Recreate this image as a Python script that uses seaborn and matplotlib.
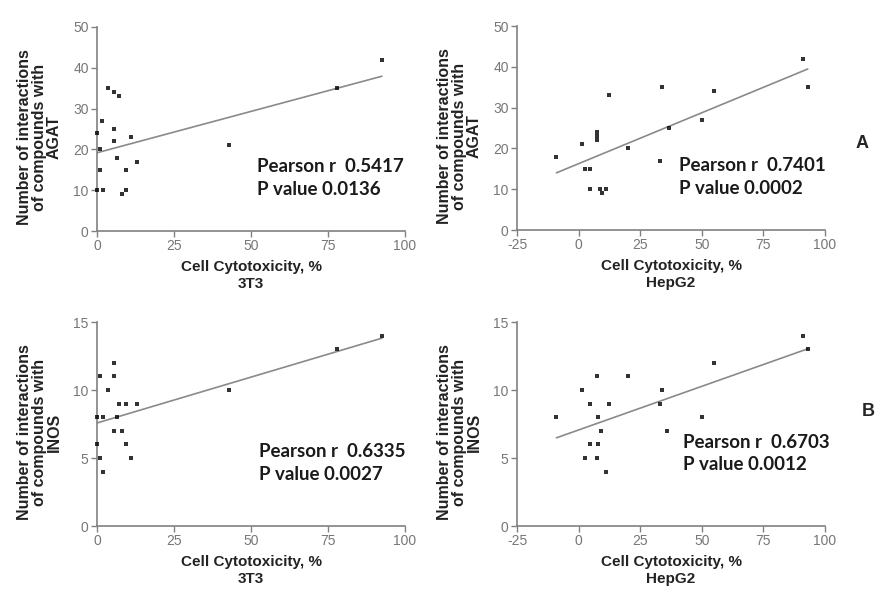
import numpy as np
import pandas as pd
import matplotlib
matplotlib.use("Agg")
import matplotlib.pyplot as plt
import seaborn as sns

# --- data ---
# 3T3 cytotoxicity vs AGAT interactions
t3_agat_x = [0, 1.5, 3.5, 5.5, 7, 5.5, 5.5, 1, 6.5, 11, 13, 9.5, 1, 0, 2, 9.5, 8, 43, 78, 92.5]
t3_agat_y = [24, 27, 35, 34, 33, 25, 22, 20, 18, 23, 17, 15, 15, 10, 10, 10, 9, 21, 35, 42]

# HepG2 cytotoxicity vs AGAT interactions
hep_agat_x = [-9, 1.5, 2.5, 4.5, 4.5, 7.5, 7.5, 7.5, 8.5, 9.5, 11, 12.5, 20, 33, 34, 36.5, 50, 55, 91, 93]
hep_agat_y = [18, 21, 15, 15, 10, 22, 23, 24, 10, 9, 10, 33, 20, 17, 35, 25, 27, 34, 42, 35]

# 3T3 cytotoxicity vs INOS interactions
t3_inos_x = [1, 0, 2, 0, 1, 2, 3.5, 5.5, 5.5, 7, 9.5, 13, 6.5, 5.5, 8, 9.5, 11, 43, 78, 92.5]
t3_inos_y = [11, 8, 8, 6, 5, 4, 10, 12, 11, 9, 9, 9, 8, 7, 7, 6, 5, 10, 13, 14]

# HepG2 cytotoxicity vs INOS interactions
hep_inos_x = [-9, 1.5, 2.5, 4.5, 4.5, 8, 7.5, 8, 9, 7.5, 11, 12.5, 20, 33, 34, 36, 50, 55, 91, 93]
hep_inos_y = [8, 10, 5, 9, 6, 6, 11, 8, 7, 5, 4, 9, 11, 9, 10, 7, 8, 12, 14, 13]

stats_text = ["Pearson r  0.5417\nP value 0.0136",
              "Pearson r  0.7401\nP value 0.0002",
              "Pearson r  0.6335\nP value 0.0027",
              "Pearson r  0.6703\nP value 0.0012"]

sns.set_style("ticks")
plt.rcParams['font.family'] = ['Liberation Sans', 'DejaVu Sans']
plt.rcParams['axes.unicode_minus'] = False

fig = plt.figure(figsize=(8.88, 5.93), dpi=100)

W, H = 888, 593
def axes_px(x0, x1, y0, y1):
    return fig.add_axes([x0 / W, 1 - y1 / H, (x1 - x0) / W, (y1 - y0) / H])

panels = [
    dict(x=t3_agat_x, y=t3_agat_y, box=(97, 405, 27, 231), xlim=(0, 100), ylim=(0, 50),
         yt=range(0, 51, 10), enz="AGAT", cell="3T3", txt=(0.52, 0.26)),
    dict(x=hep_agat_x, y=hep_agat_y, box=(517, 825, 26, 230), xlim=(-25, 100), ylim=(0, 50),
         yt=range(0, 51, 10), enz="AGAT", cell="HepG2", txt=(0.526, 0.26)),
    dict(x=t3_inos_x, y=t3_inos_y, box=(97, 405, 322, 526), xlim=(0, 100), ylim=(0, 15),
         yt=range(0, 16, 5), enz="INOS", cell="3T3", txt=(0.526, 0.31)),
    dict(x=hep_inos_x, y=hep_inos_y, box=(517, 825, 322, 526), xlim=(-25, 100), ylim=(0, 15),
         yt=range(0, 16, 5), enz="INOS", cell="HepG2", txt=(0.54, 0.355)),
]

axis_grey = "#808080"

for p, st in zip(panels, stats_text):
    ax = axes_px(*p["box"])
    df = pd.DataFrame({"tox": p["x"], "n": p["y"]})
    sns.regplot(data=df, x="tox", y="n", ax=ax, ci=None, marker="s",
                scatter_kws=dict(s=8, color="black", linewidths=0, clip_on=False, zorder=3),
                line_kws=dict(color="#8a8a8a", lw=1.2))
    ax.set_xlim(*p["xlim"])
    ax.set_ylim(*p["ylim"])
    ax.set_xticks(range(p["xlim"][0], 101, 25))
    ax.set_yticks(list(p["yt"]))
    sns.despine(ax=ax)
    for s in ("left", "bottom"):
        ax.spines[s].set_color(axis_grey)
        ax.spines[s].set_linewidth(1.2)
    ax.tick_params(colors=axis_grey, labelcolor="#777777", labelsize=10,
                   length=4, width=1.0, pad=2)
    ax.set_xlabel("Cell Cytotoxicity, %\n" + p["cell"], fontsize=11, fontweight="bold",
                  color="#222222", labelpad=5, linespacing=1.25)
    ax.set_ylabel("Number of interactions\nof compounds with\n" + p["enz"], fontsize=11.5,
                  fontweight="bold", color="#222222", linespacing=1.0)
    ax.yaxis.set_label_coords(-0.114, 0.46)
    ax.text(p["txt"][0], p["txt"][1], st, transform=ax.transAxes, fontsize=13.5,
            fontweight="bold", family=["Lato", "DejaVu Sans"], color="#1a1a1a",
            va="center", ha="left", linespacing=1.4)

fig.text(862 / W, 1 - 143 / H, "A", fontsize=13, fontweight="bold", ha="center", va="center")
fig.text(868 / W, 1 - 412 / H, "B", fontsize=13, fontweight="bold", ha="center", va="center")

fig.savefig("out.png", dpi=100)
